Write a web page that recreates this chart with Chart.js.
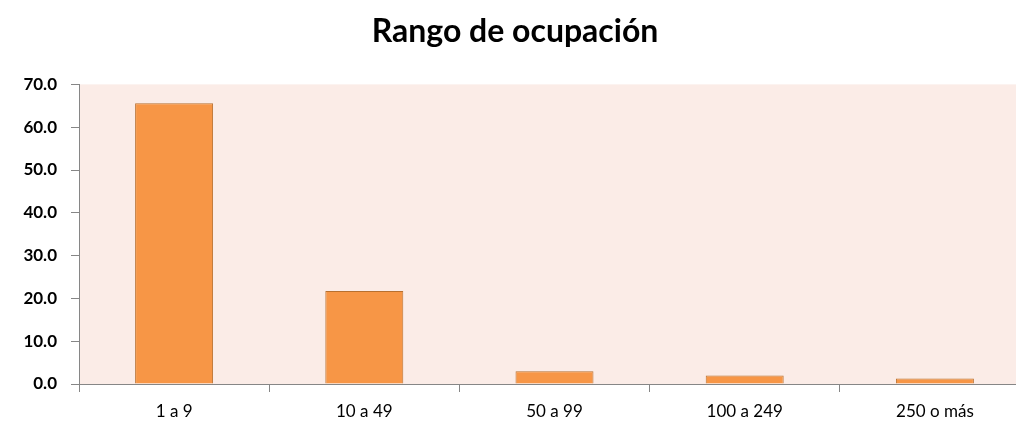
<!DOCTYPE html>
<html>
<head>
<meta charset="utf-8">
<script src="https://cdn.jsdelivr.net/npm/chart.js@4/dist/chart.umd.min.js"></script>
<style>
  html, body { margin: 0; padding: 0; background: #fff; overflow: hidden; }
  #wrap { width: 1030px; height: 431px; }
</style>
</head>
<body>
<div id="wrap"><canvas id="barChart" width="1030" height="431"></canvas></div>
<script>
const categories = ['1 a 9', '10 a 49', '50 a 99', '100 a 249', '250 o más'];
const values = [65.6, 21.7, 3.0, 2.0, 1.3];
const yTicks = [0, 10, 20, 30, 40, 50, 60, 70];

// fondo rosado del area de trazado
const plotBg = {
    id: 'plotBg',
    beforeDraw(chart) {
        const a = chart.chartArea;
        const ctx = chart.ctx;
        ctx.save();
        ctx.fillStyle = '#FBECE7';
        ctx.fillRect(a.left, a.top, a.right - a.left, a.bottom - a.top);
        ctx.restore();
    }
};

const ctx = document.getElementById('barChart').getContext('2d');
new Chart(ctx, {
    type: 'bar',
    data: {
        labels: categories,
        datasets: [{
            label: 'Rango de ocupación',
            data: values,
            backgroundColor: '#F79646',
            borderColor: '#B8702F',
            borderWidth: 1,
            categoryPercentage: 1.0,
            barPercentage: 0.41
        }]
    },
    options: {
        responsive: false,
        animation: false,
        layout: { padding: { left: 0, right: 0, top: 0, bottom: 0 } },
        plugins: {
            legend: { display: false },
            tooltip: { enabled: false },
            title: {
                display: true,
                text: 'Rango de ocupación',
                color: '#000',
                font: { family: 'Lato', size: 32, weight: 'bold' },
                padding: { top: 12, bottom: 34 }
            }
        },
        scales: {
            x: {
                border: { color: '#868686', width: 1 },
                grid: { drawOnChartArea: false, tickLength: 8, color: '#868686', offset: true },
                ticks: { color: '#000', font: { family: 'Lato', size: 17 }, padding: 9 },
                afterFit(scale) { scale.height = 47; }
            },
            y: {
                min: 0,
                max: 70,
                border: { color: '#868686', width: 1 },
                grid: { drawOnChartArea: false, tickLength: 8, color: '#868686' },
                afterBuildTicks(scale) { scale.ticks = yTicks.map(v => ({ value: v })); },
                ticks: {
                    color: '#000',
                    font: { family: 'Lato', size: 17, weight: 'bold' },
                    padding: 14,
                    callback: v => v.toFixed(1)
                },
                afterFit(scale) { scale.width = 79; }
            }
        }
    },
    plugins: [plotBg]
});
</script>
</body>
</html>
